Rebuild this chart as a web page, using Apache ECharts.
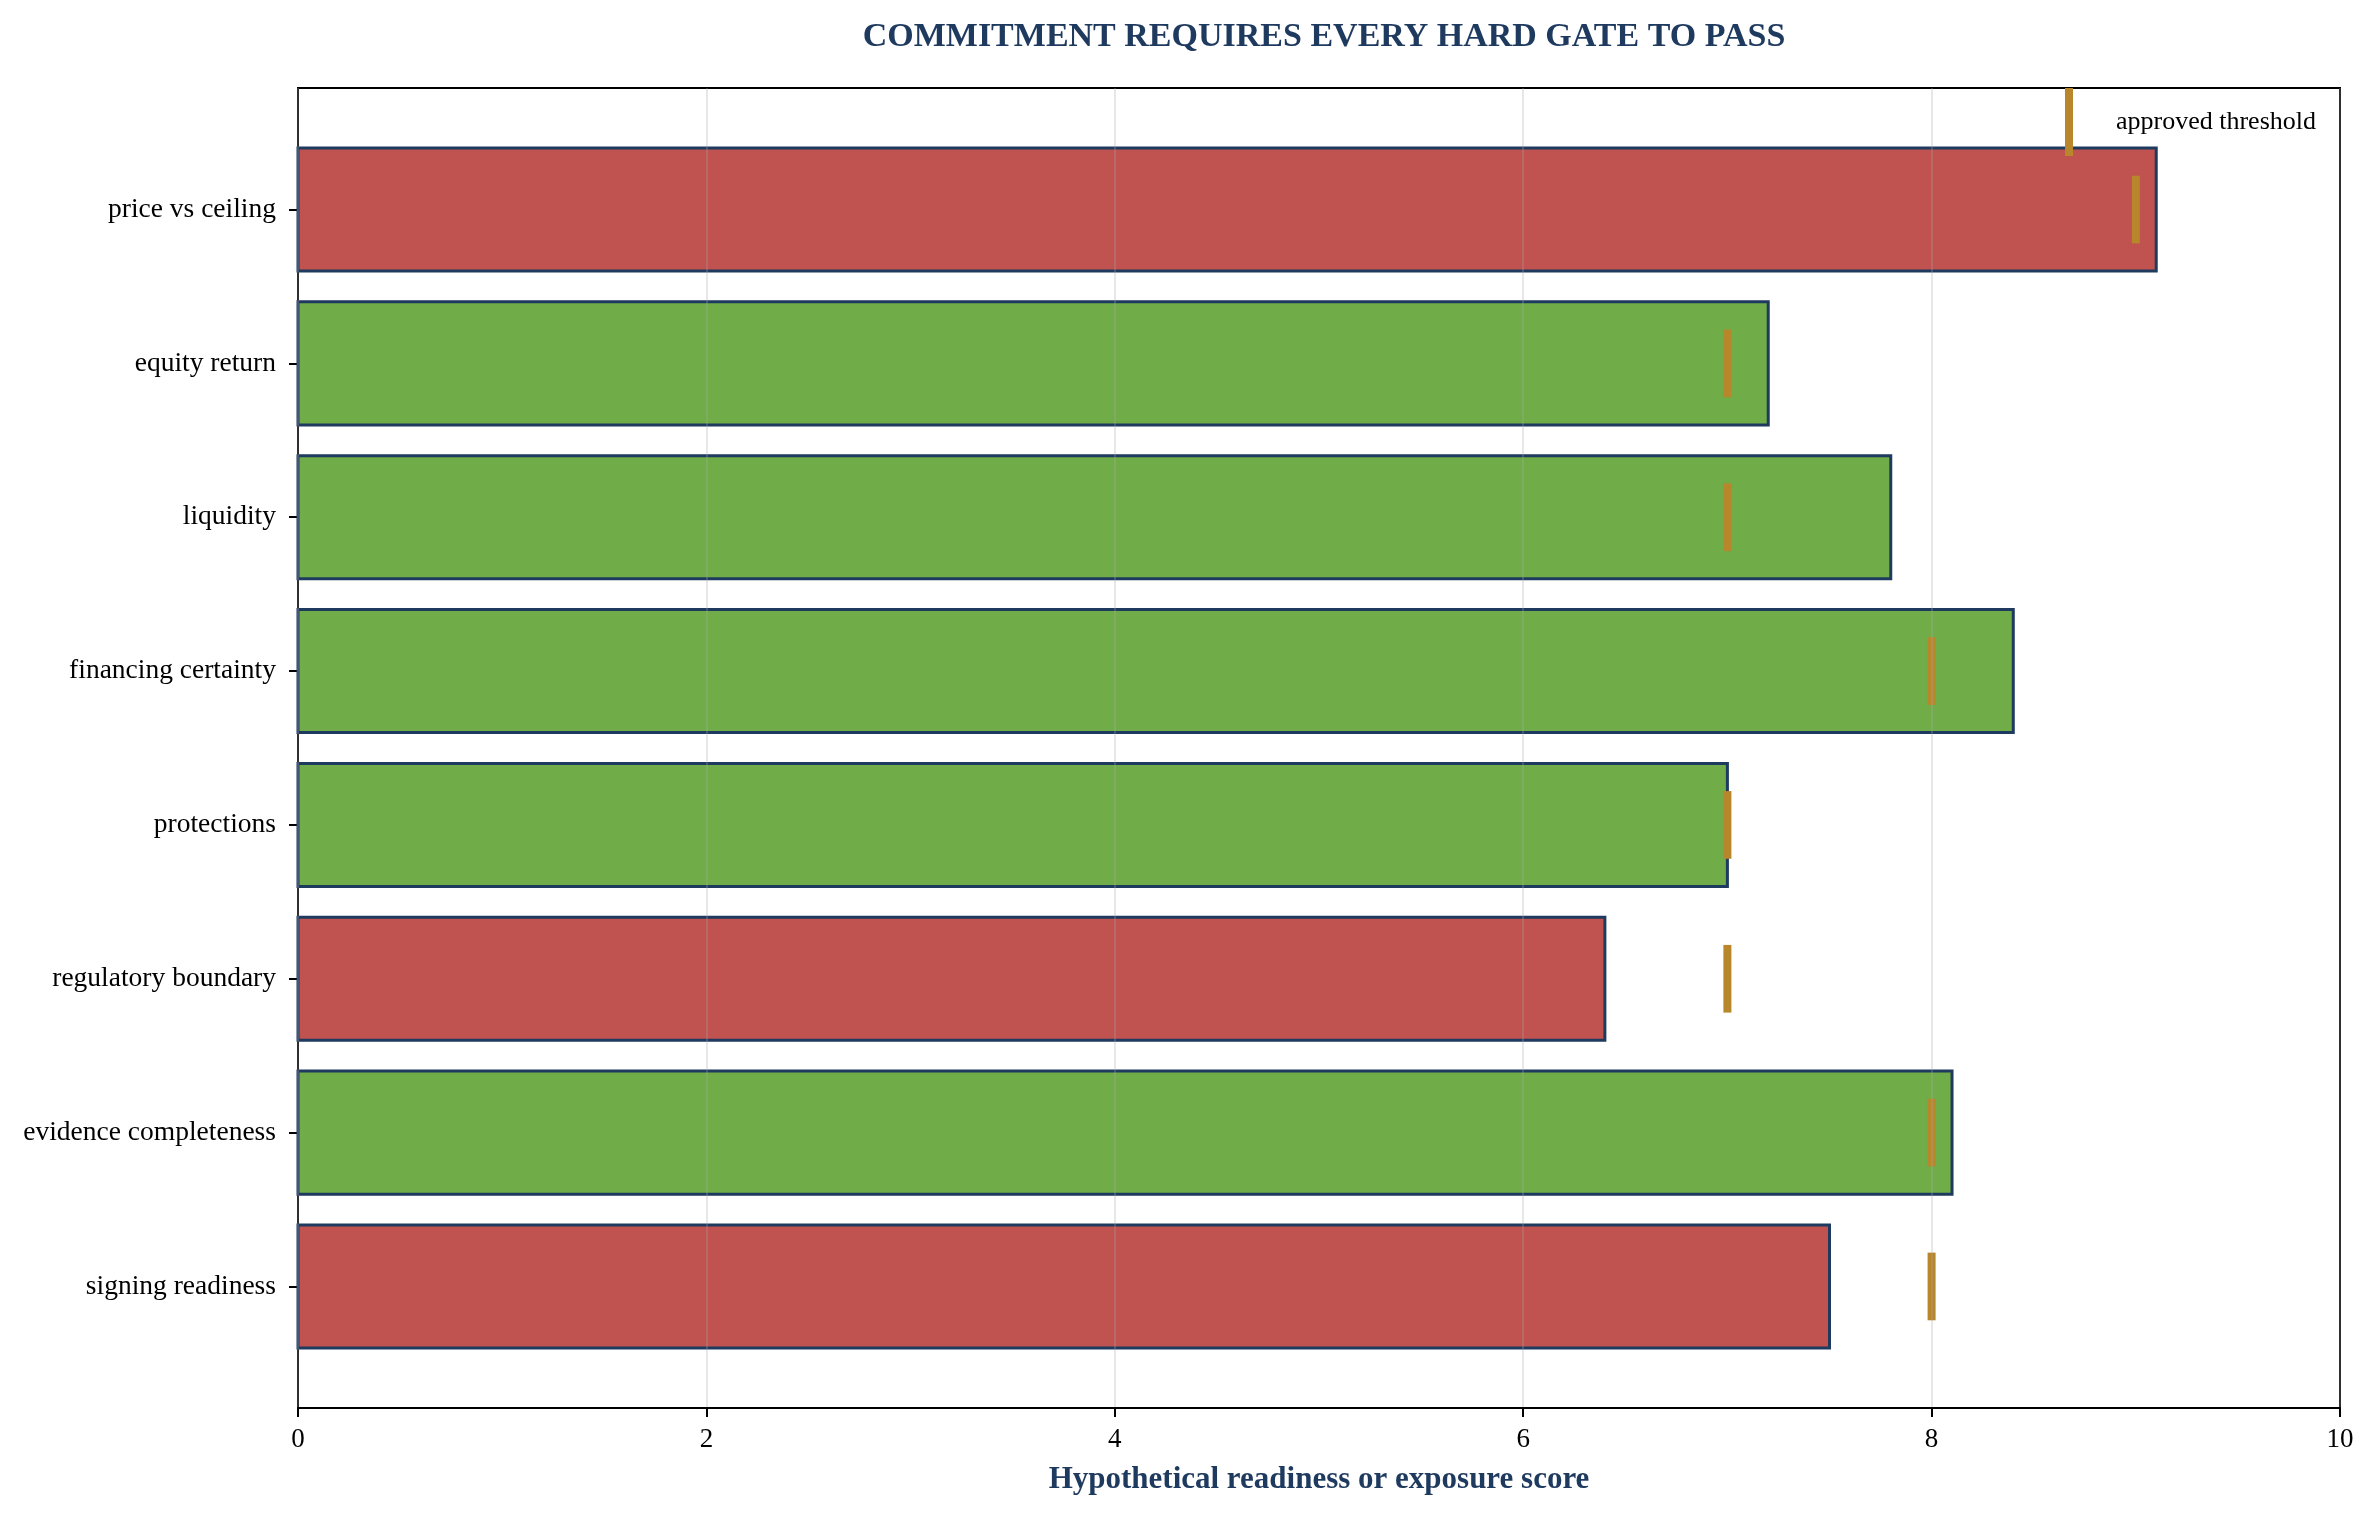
<!DOCTYPE html>
<html>
<head>
<meta charset="utf-8">
<script src="https://cdn.jsdelivr.net/npm/echarts@6/dist/echarts.min.js"></script>
<style>
  html, body { margin: 0; padding: 0; background: #fff; }
  #chart { width: 2376px; height: 1517px; }
</style>
</head>
<body>
<div id="chart"></div>
<script>
// gates, top to bottom
var gates = ['price vs ceiling', 'equity return', 'liquidity', 'financing certainty',
             'protections', 'regulatory boundary', 'evidence completeness', 'signing readiness'];
var scores = [9.1, 7.2, 7.8, 8.4, 7.0, 6.4, 8.1, 7.5];
var thresholds = [9.0, 7.0, 7.0, 8.0, 7.0, 7.0, 8.0, 8.0];
var passed = [false, true, true, true, true, false, true, false];
var xTicks = [0, 2, 4, 6, 8, 10];

var RED = '#c0524f', GREEN = '#70ac48', EDGE = '#1f3a5f', GOLD = '#b8862b', NAVY = '#1f3a5f';
var FONT = '"Liberation Serif", "Times New Roman", serif';

var idx = gates.map(function (g, i) { return i; });
var barData = idx.map(function (i) { return [scores[i], i, passed[i] ? 1 : 0]; });
var markData = idx.map(function (i) { return [thresholds[i], i]; });

var chart = echarts.init(document.getElementById('chart'));

var option = {
    backgroundColor: '#fff',
    animation: false,
    title: {
        text: 'COMMITMENT REQUIRES EVERY HARD GATE TO PASS',
        left: 1319,
        textAlign: 'center',
        top: 15,
        textStyle: { fontFamily: FONT, fontSize: 34, fontWeight: 'bold', color: NAVY }
    },
    legend: {
        data: [{ name: 'approved threshold', icon: 'rect' }],
        right: 60,
        top: 88,
        padding: 0,
        itemWidth: 8,
        itemHeight: 68,
        textStyle: { fontFamily: FONT, fontSize: 26, color: '#000', padding: [0, 0, 0, 38] }
    },
    grid: {
        left: 298, right: 36, top: 88, bottom: 109,
        show: true, borderColor: '#000', borderWidth: 2, backgroundColor: 'transparent'
    },
    xAxis: {
        type: 'value',
        min: 0, max: 10, interval: 2,
        z: 10,
        name: 'Hypothetical readiness or exposure score',
        nameLocation: 'middle',
        nameGap: 56,
        nameTextStyle: { fontFamily: FONT, fontSize: 31, fontWeight: 'bold', color: NAVY },
        axisLine: { show: true, onZero: false, lineStyle: { color: '#000', width: 2 } },
        axisTick: { show: true, length: 9, lineStyle: { color: '#000', width: 2 } },
        axisLabel: {
            fontFamily: FONT, fontSize: 27, color: '#000', margin: 18,
            formatter: function (v) { return xTicks.indexOf(v) >= 0 ? String(v) : ''; }
        },
        splitLine: { show: true, lineStyle: { color: 'rgba(170,170,170,0.28)', width: 2 } }
    },
    yAxis: {
        type: 'value',
        inverse: true,
        min: -0.79, max: gates.length - 1 + 0.79,
        axisLine: { show: true, onZero: false, lineStyle: { color: '#000', width: 2 } },
        axisTick: { show: true, length: 9, customValues: idx, lineStyle: { color: '#000', width: 2 } },
        axisLabel: {
            customValues: idx,
            fontFamily: FONT, fontSize: 27.5, color: '#000', margin: 22,
            formatter: function (v) { return gates[Math.round(v)]; }
        },
        splitLine: { show: false }
    },
    series: [
        {
            name: 'gate score',
            type: 'custom',
            data: barData,
            encode: { x: 0, y: 1 },
            renderItem: function (params, api) {
                var s = api.value(0), i = api.value(1), ok = api.value(2);
                var p0 = api.coord([0, i - 0.4]);
                var p1 = api.coord([s, i + 0.4]);
                return {
                    type: 'rect',
                    shape: { x: p0[0], y: p0[1], width: p1[0] - p0[0], height: p1[1] - p0[1] },
                    style: { fill: ok ? GREEN : RED, stroke: EDGE, lineWidth: 3 }
                };
            },
            z: 2
        },
        {
            name: 'approved threshold',
            type: 'custom',
            data: markData,
            encode: { x: 0, y: 1 },
            itemStyle: { color: GOLD },
            renderItem: function (params, api) {
                var t = api.value(0), i = api.value(1);
                var a = api.coord([t, i - 0.22]);
                var b = api.coord([t, i + 0.22]);
                return {
                    type: 'rect',
                    shape: { x: a[0] - 4, y: a[1], width: 8, height: b[1] - a[1] },
                    style: { fill: GOLD }
                };
            },
            z: 3
        }
    ]
};

chart.setOption(option);
</script>
</body>
</html>
